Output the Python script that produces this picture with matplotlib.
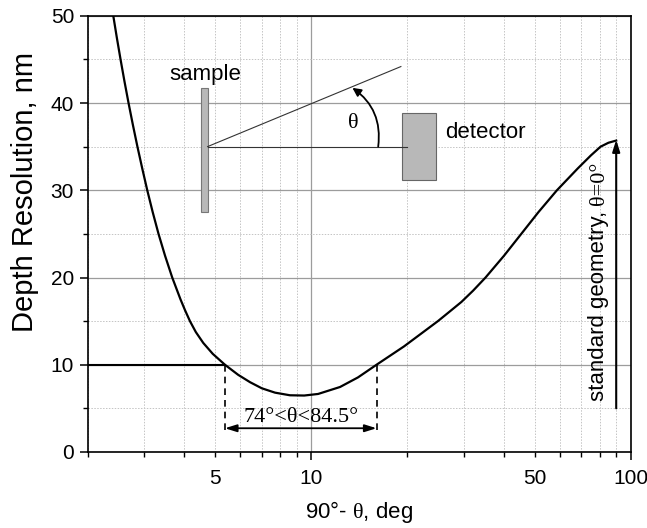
import numpy as np
import matplotlib
matplotlib.use("Agg")
from matplotlib import pyplot as plt
from matplotlib.patches import Rectangle, FancyArrowPatch
from matplotlib.ticker import FixedLocator, FixedFormatter

# curve: 90 - theta (deg) vs depth resolution (nm)
angle = [2.400, 2.462, 2.529, 2.601, 2.679, 2.764, 2.856, 2.957, 3.066, 3.188,
         3.325, 3.485, 3.670, 3.895, 4.025, 4.170, 4.350, 4.590, 4.915, 5.366,
         5.9, 6.43, 7.0, 7.7, 8.57, 9.5, 10.5, 12.3, 14.0, 16.0,
         19.5, 24.9, 26.9, 29.5, 32.1, 35.1, 40.1, 45.4, 51.4, 58.7, 68.2,
         75, 80.4, 85.1, 90]
resolution = [50, 47.5, 45, 42.5, 40, 37.5, 35, 32.5, 30, 27.5,
              25, 22.5, 20, 17.5, 16.25, 15, 13.75, 12.5, 11.25, 10,
              8.85, 8.0, 7.3, 6.8, 6.5, 6.47, 6.65, 7.45, 8.55, 10,
              12.1, 15, 16.0, 17.2, 18.5, 20, 22.5, 25, 27.5, 30, 32.5,
              34, 35, 35.45, 35.7]

# window where resolution stays below 10 nm
window_lo = 5.366
window_hi = 16.0
level = 10
window_label = "74°<θ<84.5°"

x_major = [10, 100]
x_minor = [2, 3, 4, 5, 6, 7, 8, 9, 20, 30, 40, 50, 60, 70, 80, 90]
x_minor_labels = ["", "", "", "5", "", "", "", "", "", "", "", "50", "", "", "", ""]

plt.rcParams["font.family"] = ["Liberation Sans", "DejaVu Sans"]
plt.rcParams["mathtext.fontset"] = "custom"
plt.rcParams["mathtext.rm"] = "Liberation Serif"
plt.rcParams["mathtext.it"] = "Liberation Serif"
plt.rcParams["mathtext.default"] = "rm"

fig = plt.figure(figsize=(6.47, 5.28), dpi=100)
ax = fig.add_axes([0.136, 0.144, 0.839, 0.826])

ax.plot(angle, resolution, color="black", lw=1.6, zorder=5)

ax.set_xscale("log")
ax.set_xlim(2, 100)
ax.set_ylim(0, 50)

# ticks
ax.xaxis.set_major_locator(FixedLocator(x_major))
ax.xaxis.set_major_formatter(FixedFormatter([str(v) for v in x_major]))
ax.xaxis.set_minor_locator(FixedLocator(x_minor))
ax.xaxis.set_minor_formatter(FixedFormatter(x_minor_labels))
ax.set_yticks(np.arange(0, 51, 10))
ax.set_yticks(np.arange(5, 50, 10), minor=True)

ax.tick_params(which="major", direction="out", length=6, width=1.1,
               labelsize=15, top=False, right=False)
ax.tick_params(which="minor", direction="out", length=3.6, width=1.0,
               labelsize=15, top=False, right=False)
ax.tick_params(axis="x", which="major", pad=6)
ax.tick_params(axis="x", which="minor", pad=8.4)
ax.tick_params(axis="y", which="major", pad=4)

for sp in ax.spines.values():
    sp.set_linewidth(1.2)

# grid
ax.set_axisbelow(True)
ax.grid(which="major", color="#9c9c9c", lw=0.9, ls="-")
ax.grid(which="minor", color="#c4c4c4", lw=0.7, ls=(0, (1.5, 1.5)))

# labels
ax.set_xlabel("90°- $θ$, deg", fontsize=16, labelpad=8)
ax.set_ylabel("Depth Resolution, nm", fontsize=21)
ax.yaxis.set_label_coords(-0.09, 0.596)

# 10 nm level and the angular window
ax.plot([2, window_lo], [level, level], color="black", lw=1.5, zorder=4)
ax.plot([window_lo, window_lo], [level, 2.3], color="black", lw=1.2,
        ls=(0, (4, 3)), zorder=4)
ax.plot([window_hi, window_hi], [level, 2.3], color="black", lw=1.2,
        ls=(0, (4, 3)), zorder=4)
ax.annotate("", xy=(window_lo, 2.72), xytext=(window_hi, 2.72),
            arrowprops=dict(arrowstyle="<|-|>,head_length=0.7,head_width=0.22",
                            color="black", lw=1.3, shrinkA=0, shrinkB=0))
ax.text(np.sqrt(window_lo * window_hi), 3.45, window_label, ha="center",
        va="baseline", fontsize=16, fontfamily="Liberation Serif")

# standard geometry arrow
ax.annotate("", xy=(90, 35.8), xytext=(90, 5),
            arrowprops=dict(arrowstyle="-|>,head_length=0.7,head_width=0.22",
                            color="black", lw=1.5, shrinkA=0, shrinkB=0))
t1 = ax.text(82.4, 5.8, "standard geometry, ", rotation=90, rotation_mode="anchor",
             ha="left", va="baseline", fontsize=16)
renderer = fig.canvas.get_renderer()
bb = t1.get_window_extent(renderer=renderer)
top = ax.transData.inverted().transform((bb.x0, bb.y1))[1]
ax.text(82.4, top, "θ=0°", rotation=90, rotation_mode="anchor",
        ha="left", va="baseline", fontsize=16, fontfamily="Liberation Serif")

# sketch of the geometry
tr = ax.transAxes
ax.add_patch(Rectangle((0.2081, 0.5511), 0.0123, 0.2831, transform=tr,
                       facecolor="#b8b8b8", edgecolor="#777777", lw=0.8, zorder=3))
ax.add_patch(Rectangle((0.5788, 0.6239), 0.0615, 0.1529, transform=tr,
                       facecolor="#b8b8b8", edgecolor="#666666", lw=0.8, zorder=3))
ax.plot([0.2204, 0.5869], [0.7002, 0.7002], transform=tr, color="#333333",
        lw=0.8, zorder=4)
ax.plot([0.2204, 0.5764], [0.7002, 0.8837], transform=tr, color="#333333",
        lw=0.8, zorder=4)
ax.add_patch(FancyArrowPatch((0.5346, 0.7002), (0.4871, 0.8349), transform=tr,
                             connectionstyle="arc3,rad=0.3",
                             arrowstyle="-|>,head_length=5,head_width=2.5",
                             color="black", lw=1.3, shrinkA=0, shrinkB=0, zorder=5))
ax.text(0.2155, 0.853, "sample", transform=tr, ha="center", va="baseline",
        fontsize=16)
ax.text(0.6575, 0.7209, "detector", transform=tr, ha="left", va="baseline",
        fontsize=16)
ax.text(0.4886, 0.7539, "θ", transform=tr, ha="center", va="center",
        fontsize=16, fontfamily="Liberation Serif")

fig.savefig("out.png", dpi=100)
